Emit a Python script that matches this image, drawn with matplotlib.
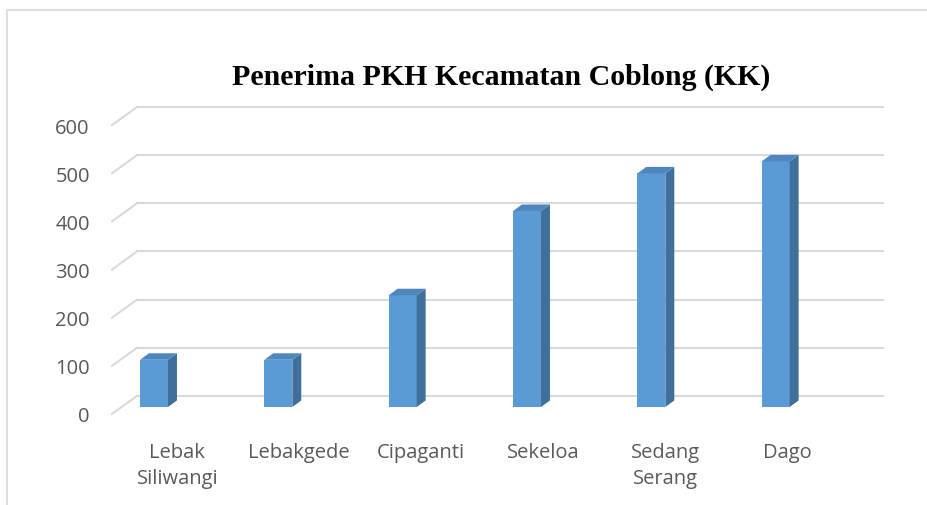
import numpy as np
import matplotlib
matplotlib.use("Agg")
import matplotlib.pyplot as plt
from matplotlib.patches import Polygon
from matplotlib.lines import Line2D

kelurahan = ["Lebak\nSiliwangi", "Lebakgede", "Cipaganti", "Sekeloa", "Sedang\nSerang", "Dago"]
penerima = [98, 98, 232, 407, 485, 510]
y_ticks = [0, 100, 200, 300, 400, 500, 600]

# 3d look (oblique projection in data units)
depth_dx, depth_dy = 0.201, 37.5      # floor / wall depth
bar_dx, bar_dy = 0.072, 13.5          # bar depth
bar_base = 14.6                       # bars stand part way into the floor
bar_off, bar_w = -0.162, 0.225

front = "#5b9bd5"
side = "#3f6f9b"
top = "#4f86bf"
grid = "#d9d9d9"
txt = "#595959"

fig = plt.figure(figsize=(9.27, 5.06), dpi=100)
W, H = 927, 506
# chart frame: only top and left edges are inside the picture
fig.lines.append(Line2D([7 / W, 7 / W, 1.0], [0.0, 1 - 11 / H, 1 - 11 / H],
                        transform=fig.transFigure, color=grid, lw=1.2))

ax = fig.add_axes([112 / W, (H - 415) / H, 771 / W, 307 / H])
ax.set_xlim(-0.5, 5.5 + depth_dx)
ax.set_ylim(0, 600 + depth_dy)
for s in ax.spines.values():
    s.set_visible(False)

n = len(penerima)
for t in y_ticks:
    ax.plot([-0.5, -0.5 + depth_dx], [t, t + depth_dy], color=grid, lw=1.5, clip_on=False, zorder=1)
    ax.plot([-0.5 + depth_dx, n - 0.5 + depth_dx], [t + depth_dy] * 2, color=grid, lw=1.5,
            clip_on=False, zorder=1)

for i, v in enumerate(penerima):
    x0 = i + bar_off - bar_w / 2
    x1 = x0 + bar_w
    ax.bar(x0, v, width=bar_w, bottom=bar_base, align="edge", color=front, zorder=3)
    ax.add_patch(Polygon([(x1, bar_base), (x1, bar_base + v),
                          (x1 + bar_dx, bar_base + v + bar_dy), (x1 + bar_dx, bar_base + bar_dy)],
                         closed=True, facecolor=side, edgecolor="none", zorder=3))
    ax.add_patch(Polygon([(x0, bar_base + v), (x1, bar_base + v),
                          (x1 + bar_dx, bar_base + v + bar_dy), (x0 + bar_dx, bar_base + v + bar_dy)],
                         closed=True, facecolor=top, edgecolor="none", zorder=3))

ax.set_yticks(y_ticks)
ax.set_yticklabels([str(t) for t in y_ticks])
ax.set_xticks(np.arange(n) * 0.981 + 0.025)
ax.set_xticklabels(kelurahan, linespacing=1.4)
ax.tick_params(axis="y", length=0, pad=16, labelsize=14.5, labelcolor=txt)
ax.tick_params(axis="x", length=0, pad=20, labelsize=14.5, labelcolor=txt)
for lab in ax.get_xticklabels() + ax.get_yticklabels():
    lab.set_family("Open Sans")

fig.text(501 / W, 1 - 77 / H, "Penerima PKH Kecamatan Coblong (KK)", ha="center", va="center",
         family="Liberation Serif", weight="bold", fontsize=21.5, color="black")

fig.savefig("out.png", dpi=100)
